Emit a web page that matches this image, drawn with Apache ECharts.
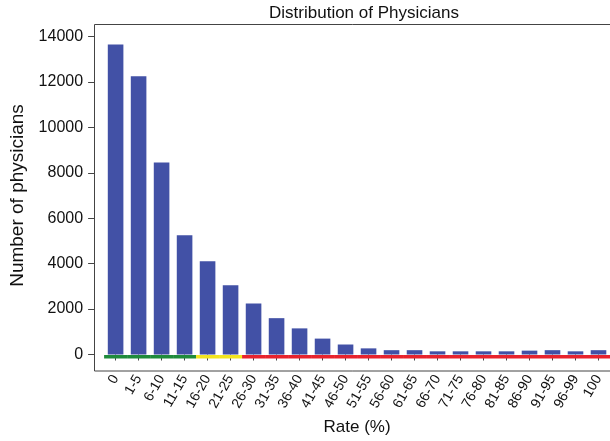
<!DOCTYPE html>
<html>
<head>
<meta charset="utf-8">
<script src="https://cdn.jsdelivr.net/npm/echarts@6/dist/echarts.min.js"></script>
<style>
html,body{margin:0;padding:0;background:#fff;}
#chart{width:610px;height:441px;}
</style>
</head>
<body>
<div id="chart"></div>
<script>
const categories = ['0','1-5','6-10','11-15','16-20','21-25','26-30','31-35','36-40','41-45','46-50','51-55','56-60','61-65','66-70','71-75','76-80','81-85','86-90','91-95','96-99','100'];
const physicians = [13650,12250,8450,5250,4100,3050,2250,1600,1150,700,440,270,190,190,140,140,140,140,170,190,140,190];
const rateGroup = ['low','low','low','low','mid','mid','high','high','high','high','high','high','high','high','high','high','high','high','high','high','high','high'];
const groupColors = {low:'#1f8b3b', mid:'#f3e51f', high:'#e8232d'};
const yTicks = [0,2000,4000,6000,8000,10000,12000,14000];

const chart = echarts.init(document.getElementById('chart'), null, {renderer:'canvas'});
const font = 'Liberation Sans, Arial, Helvetica, sans-serif';

chart.setOption({
  animation:false,
  backgroundColor:'#fff',
  title:{
    text:'Distribution of Physicians',
    left:359, top:0, textAlign:'center',
    textStyle:{fontFamily:font,fontSize:17,fontWeight:'normal',color:'#111'}
  },
  grid:{left:104.1, top:36.5, width:510.4, height:322, containLabel:false},
  xAxis:{
    type:'category',
    data:categories,
    offset:12.5,
    axisLine:{show:false},
    axisTick:{show:true,alignWithLabel:true,length:6,lineStyle:{color:'#444'}},
    axisLabel:{rotate:60,interval:0,margin:9,fontFamily:font,fontSize:14,color:'#111'},
    name:'Rate (%)',
    nameLocation:'middle',
    nameGap:52,
    nameTextStyle:{fontFamily:font,fontSize:17,color:'#111'}
  },
  yAxis:{
    type:'value',
    min:yTicks[0], max:yTicks[yTicks.length-1], interval:2000,
    offset:10,
    splitLine:{show:false},
    axisLine:{show:false},
    axisTick:{show:true,length:6,lineStyle:{color:'#444'}},
    axisLabel:{margin:11,fontFamily:font,fontSize:16,color:'#111',formatter:v=>String(v)},
    name:'Number of physicians',
    nameLocation:'middle',
    nameGap:62,
    nameTextStyle:{fontFamily:font,fontSize:19,color:'#111'}
  },
  graphic:[{
    type:'rect',
    shape:{x:94.5,y:24.5,width:540,height:346.5},
    style:{fill:null,stroke:'#444',lineWidth:1},
    z:0, silent:true
  }],
  series:[{
    type:'bar',
    data:physicians,
    barWidth:15.6,
    itemStyle:{color:'#4251a6'},
    z:2
  },{
    type:'custom',
    data:categories.map((c,i)=>[i,0,rateGroup[i]]),
    encode:{x:0,y:1},
    z:3,
    renderItem:function(params, api){
      const p = api.coord([api.value(0),0]);
      const w = api.size([1,0])[0];
      return {
        type:'rect',
        shape:{x:p[0]-w/2, y:p[1]+0.5, width:w, height:3.5},
        style:{fill:groupColors[rateGroup[params.dataIndex]]}
      };
    }
  }]
});
</script>
</body>
</html>
